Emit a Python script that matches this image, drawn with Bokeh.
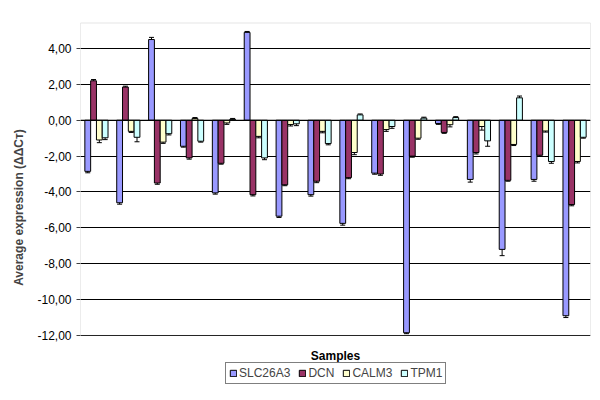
from bokeh.plotting import figure
from bokeh.models import (ColumnDataSource, FactorRange, FixedTicker, Legend, LegendItem,
                          Whisker, Span, TeeHead, Range1d, BoxAnnotation)
from bokeh.core.properties import value
from bokeh.transform import dodge
from bokeh.embed import file_html
from bokeh.resources import INLINE

samples = ["1", "2", "3", "4", "5", "6", "7", "8", "9", "10", "11", "12", "13", "14", "15", "16"]
genes = ["SLC26A3", "DCN", "CALM3", "TPM1"]
colors = ["#9999FF", "#993366", "#FFFFCC", "#CCFFFF"]

slc26a3 = [-2.85, -4.60, 4.50, -1.45, -4.05, 4.90, -5.35, -4.15, -5.75, -2.95, -11.85, -0.18, -3.30, -7.20, -3.30, -10.90]
dcn = [2.20, 1.85, -3.50, -2.10, -2.40, -4.15, -3.60, -3.40, -3.20, -3.00, -2.00, -0.68, -1.80, -3.35, -1.95, -4.70]
calm3 = [-1.10, -0.62, -1.22, 0.10, -0.15, -0.90, -0.24, -0.62, -1.80, -0.52, -1.00, -0.25, -0.35, -1.35, -0.60, -2.30]
tpm1 = [-0.98, -0.95, -0.75, -1.17, 0.05, -2.10, -0.20, -1.30, 0.30, -0.35, 0.12, 0.15, -1.15, 1.25, -2.30, -0.95]

slc26a3_err = [0.08, 0.08, 0.12, 0.05, 0.07, 0.05, 0.07, 0.08, 0.10, 0.06, 0.05, 0.05, 0.15, 0.35, 0.10, 0.10]
dcn_err = [0.07, 0.05, 0.07, 0.07, 0.05, 0.07, 0.05, 0.08, 0.06, 0.07, 0.06, 0.05, 0.08, 0.05, 0.05, 0.07]
calm3_err = [0.15, 0.06, 0.07, 0.05, 0.08, 0.08, 0.08, 0.08, 0.12, 0.10, 0.06, 0.12, 0.20, 0.06, 0.06, 0.08]
tpm1_err = [0.10, 0.25, 0.07, 0.05, 0.05, 0.10, 0.10, 0.07, 0.05, 0.10, 0.05, 0.05, 0.30, 0.10, 0.10, 0.05]

y_ticks = [-12, -10, -8, -6, -4, -2, 0, 2, 4]
y_tick_labels = ["-12,00", "-10,00", "-8,00", "-6,00", "-4,00", "-2,00", "0,00", "2,00", "4,00"]
y_axis_min = -12
y_axis_max = 5.45

series = [slc26a3, dcn, calm3, tpm1]
errors = [slc26a3_err, dcn_err, calm3_err, tpm1_err]

FONT = "Liberation Sans"

# frame extends below the plot area to hold the axis title and legend
p = figure(x_range=FactorRange(factors=samples, range_padding=0),
           y_range=Range1d(-15.18, y_axis_max),
           frame_width=510, frame_height=370, output_backend="svg", toolbar_location=None,
           min_border_left=80, min_border_right=10, min_border_top=22, min_border_bottom=8)

p.outline_line_color = None
p.background_fill_color = "white"
p.border_fill_color = "white"

bar_w = 1 / 5.5
offsets = [-1.5 * bar_w, -0.5 * bar_w, 0.5 * bar_w, 1.5 * bar_w]

items = []
for gname, vals, errs, col, off in zip(genes, series, errors, colors, offsets):
    src = ColumnDataSource(dict(x=samples, top=vals,
                                upper=[v + e for v, e in zip(vals, errs)],
                                lower=[v - e for v, e in zip(vals, errs)]))
    r = p.vbar(x=dodge("x", off, range=p.x_range), top="top", bottom=0, width=bar_w,
               source=src, fill_color=col, line_color="black", line_width=1)
    w = Whisker(base=dodge("x", off, range=p.x_range), upper="upper", lower="lower", source=src,
                line_color="black", line_width=1,
                upper_head=TeeHead(size=5, line_color="black", line_width=1),
                lower_head=TeeHead(size=5, line_color="black", line_width=1))
    p.add_layout(w)
    items.append(LegendItem(label=gname, renderers=[r]))

p.add_layout(Span(location=0, dimension="width", line_color="black", line_width=1))

# plot-area border
p.add_layout(BoxAnnotation(bottom=y_axis_min, top=y_axis_max - 0.02, fill_alpha=0,
                           line_color="#808080", line_width=1))

p.ygrid.grid_line_color = "black"
p.ygrid.ticker = FixedTicker(ticks=y_ticks)
p.xgrid.visible = False

p.yaxis.ticker = FixedTicker(ticks=y_ticks)
p.yaxis.major_label_overrides = {t: l for t, l in zip(y_ticks, y_tick_labels)}
p.yaxis.minor_tick_line_color = None
p.yaxis.major_tick_out = 4
p.yaxis.major_tick_in = 0
p.yaxis.axis_line_color = None
p.yaxis.major_tick_line_color = "#404040"
p.yaxis.major_label_text_font = FONT
p.yaxis.major_label_text_font_size = "12px"
p.yaxis.major_label_text_color = "black"
p.yaxis.axis_label = "Average expression (ΔΔCᴛ)"
p.yaxis.axis_label_text_font = FONT
p.yaxis.axis_label_text_font_size = "12px"
p.yaxis.axis_label_text_font_style = "bold"
p.yaxis.axis_label_standoff = 8

p.xaxis.visible = False

# x-axis title, centred between samples 8 and 9
p.text(x=dodge("x", 0.5, range=p.x_range), y="y", text="t",
       source=ColumnDataSource(dict(x=["8"], y=[-13.12], t=["Samples"])),
       text_font=value(FONT), text_font_size="12px", text_font_style="bold",
       text_align="center", text_baseline="middle", text_color="black")

legend = Legend(items=items, orientation="horizontal", location=(145, 8),
                label_text_font=FONT, label_text_font_size="12px",
                glyph_width=8, glyph_height=8, label_standoff=2, spacing=8,
                label_height=12, padding=3, margin=0, border_line_color="black")
p.add_layout(legend)

open("out.html", "w").write(file_html(p, INLINE))
